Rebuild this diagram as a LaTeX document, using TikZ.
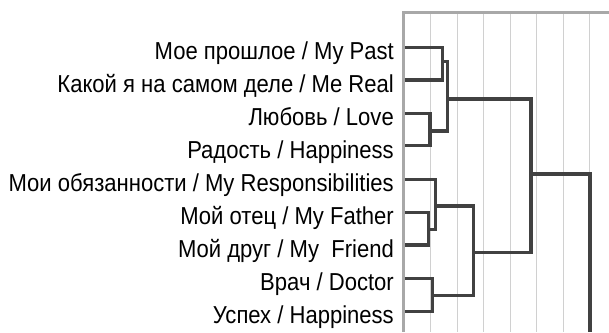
\documentclass[tikz,border=0pt]{standalone}
\usepackage{fontspec}
\setmainfont{Liberation Sans}[FakeStretch=0.9]
\definecolor{dendro}{HTML}{414141}
\definecolor{gridc}{HTML}{D0D0D0}
\definecolor{axisc}{HTML}{A8A8A8}
\begin{document}
\begin{tikzpicture}[x=1pt,y=-1pt,
  lbl/.style={anchor=base east,inner sep=0pt,font=\fontsize{24.5}{26}\selectfont},
  dline/.style={draw=dendro,line width=3.2pt,line join=miter},
  gline/.style={draw=gridc,line width=1pt},
  aline/.style={draw=axisc,line width=3pt}]
\useasboundingbox[fill=white] (0,0) rectangle (609,332);
% grid
\foreach \gx in {430.7,457.3,483.7,510,536.3,563,589.3}
  \draw[gline] (\gx,12.7) -- (\gx,332);
\draw[aline] (403.3,12.7) -- (609,12.7);
\draw[aline] (403.3,11.2) -- (403.3,332);
% leaves
\foreach \i/\y in {1/47.3,2/80,3/113.3,4/145.7,5/179.3,6/212.3,7/245,8/278.3,9/311.7}
  \coordinate (a\i) at (404.8,\y);
\node[lbl] (t1) at (394,59.3) {Мое прошлое / My Past};
\node[lbl] (t2) at (394,92.3) {Какой я на самом деле / Me Real};
\node[lbl] (t3) at (394,125.3) {Любовь / Love};
\node[lbl] (t4) at (394,158.3) {Радость / Happiness};
\node[lbl] (t5) at (394,191.3) {Мои обязанности / My Responsibilities};
\node[lbl] (t6) at (394,224.3) {Мой отец / My Father};
\node[lbl] (t7) at (394,257.3) {Мой друг / My~ Friend};
\node[lbl] (t8) at (394,290.3) {Врач / Doctor};
\node[lbl] (t9) at (394,323.3) {Успех / Happiness};
% joins
\coordinate (j12) at (442.3,61.7);
\coordinate (j34) at (430,131);
\coordinate (jA) at (447.3,99);
\coordinate (j67) at (428.3,229.3);
\coordinate (j567) at (435.7,206);
\coordinate (j89) at (432.7,295.7);
\coordinate (jB) at (473.3,252.3);
\coordinate (jR) at (531,174);
\coordinate (root) at (590,332);
\draw[dline] (a1) -| (j12 |- a2) -- (a2);
\draw[dline] (a3) -| (j34 |- a4) -- (a4);
\draw[dline] (j12) -| (jA |- j34) -- (j34);
\draw[dline] (a6) -| (j67 |- a7) -- (a7);
\draw[dline] (a5) -| (j567 |- j67) -- (j67);
\draw[dline] (a8) -| (j89 |- a9) -- (a9);
\draw[dline] (j567) -| (jB |- j89) -- (j89);
\draw[dline] (jA) -| (jR |- jB) -- (jB);
\draw[dline] (jR) -| (root);
\end{tikzpicture}
\end{document}
